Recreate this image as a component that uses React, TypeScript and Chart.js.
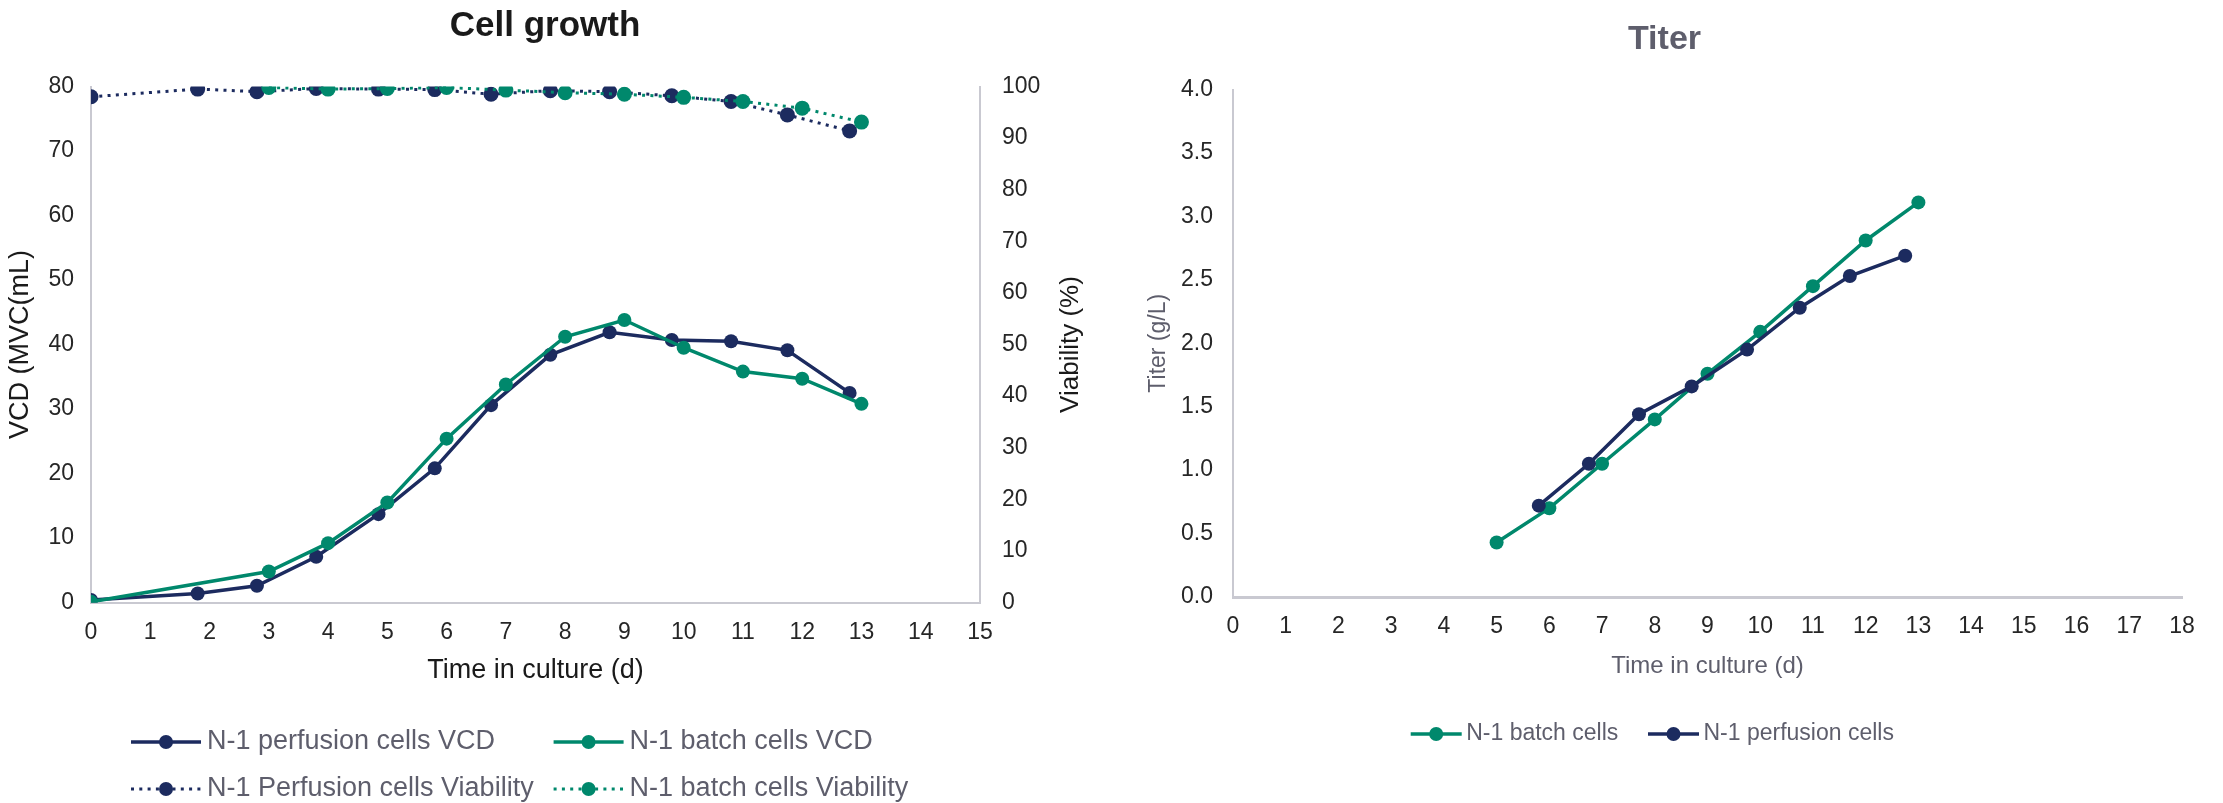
import React, { useEffect, useRef } from "react";
import { Chart, registerables } from "chart.js";

Chart.register(...registerables);

const NAVY = "#1c2b5f";
const GREEN = "#00886c";
const FONT = "'Liberation Sans', Arial, sans-serif";
const TICK_COLOR = "#262626";
const GRAY_TEXT = "#5e5e6c";
const AXIS_COLOR = "#c9c9d1";

// ---- Cell growth data ----
const perfusionDays = [0, 1.8, 2.8, 3.8, 4.85, 5.8, 6.75, 7.75, 8.75, 9.8, 10.8, 11.75, 12.8];
const perfusionVCD = [0.4, 1.4, 2.6, 7.1, 13.7, 20.8, 30.6, 38.4, 41.9, 40.7, 40.5, 39.1, 32.5];
const perfusionViability = [98.0, 99.5, 99.0, 99.6, 99.5, 99.4, 98.5, 99.2, 99.0, 98.2, 97.1, 94.5, 91.4];

const batchDays = [0, 3, 4, 5, 6, 7, 8, 9, 10, 11, 12, 13];
const batchVCD = [0.1, 4.8, 9.2, 15.5, 25.4, 33.8, 41.2, 43.8, 39.5, 35.8, 34.7, 30.8];
const batchViabilityDays = [3, 4, 5, 6, 7, 8, 9, 10, 11, 12, 13];
const batchViability = [99.8, 99.5, 99.6, 99.8, 99.3, 98.8, 98.5, 97.9, 97.1, 95.8, 93.1];

// ---- Titer data ----
const batchTiterDays = [5, 6, 7, 8, 9, 10, 11, 12, 13];
const batchTiter = [0.43, 0.7, 1.05, 1.4, 1.76, 2.09, 2.45, 2.81, 3.11];
const perfusionTiterDays = [5.8, 6.75, 7.7, 8.7, 9.75, 10.75, 11.7, 12.75];
const perfusionTiter = [0.72, 1.05, 1.44, 1.66, 1.95, 2.28, 2.53, 2.69];

const growthLegend = [
  { text: "N-1 perfusion cells VCD", color: NAVY, dotted: false },
  { text: "N-1 batch cells VCD", color: GREEN, dotted: false },
  { text: "N-1 Perfusion cells Viability", color: NAVY, dotted: true },
  { text: "N-1 batch cells Viability", color: GREEN, dotted: true },
];
const titerLegend = [
  { text: "N-1 batch cells", color: GREEN, dotted: false },
  { text: "N-1 perfusion cells", color: NAVY, dotted: false },
];

function pts(xs: number[], ys: number[]) {
  return xs.map((x, i) => ({ x, y: ys[i] }));
}

function drawLegendItem(
  ctx: CanvasRenderingContext2D,
  x: number,
  y: number,
  lineLen: number,
  item: { text: string; color: string; dotted: boolean },
  fontSize: number,
  gap: number
) {
  ctx.save();
  ctx.strokeStyle = item.color;
  if (item.dotted) {
    ctx.lineWidth = 3;
    ctx.setLineDash([3, 5.3]);
  } else {
    ctx.lineWidth = 3.5;
  }
  ctx.beginPath();
  ctx.moveTo(x, y);
  ctx.lineTo(x + lineLen, y);
  ctx.stroke();
  ctx.setLineDash([]);
  ctx.fillStyle = item.color;
  ctx.beginPath();
  ctx.arc(x + lineLen / 2, y, 7, 0, Math.PI * 2);
  ctx.fill();
  ctx.fillStyle = GRAY_TEXT;
  ctx.font = `${fontSize}px ${FONT}`;
  ctx.textBaseline = "middle";
  ctx.textAlign = "left";
  ctx.fillText(item.text, x + lineLen + gap, y);
  ctx.restore();
}

const tickFont = { size: 23, family: FONT };

function axisBase() {
  return {
    grid: { display: false, drawTicks: false },
    border: { display: true, color: AXIS_COLOR, width: 2 },
  };
}

function GrowthChart() {
  const ref = useRef<HTMLCanvasElement | null>(null);
  useEffect(() => {
    if (!ref.current) return;
    const extras = {
      id: "growthExtras",
      afterDraw(chart: any) {
        const ctx = chart.ctx as CanvasRenderingContext2D;
        const area = chart.chartArea;
        ctx.save();
        ctx.fillStyle = "#1a1a1a";
        ctx.font = `bold 35px ${FONT}`;
        ctx.textAlign = "center";
        ctx.textBaseline = "middle";
        ctx.fillText("Cell growth", 545, 26);
        // right axis title, reading bottom to top
        ctx.translate(area.right + 91, (area.top + area.bottom) / 2);
        ctx.rotate(-Math.PI / 2);
        ctx.fillStyle = "#1a1a1a";
        ctx.font = `26px ${FONT}`;
        ctx.fillText("Viability (%)", 0, 0);
        ctx.restore();
        const cols = [131, 553.6];
        const rows = [742, 789];
        growthLegend.forEach((item, i) => {
          drawLegendItem(ctx, cols[i % 2], rows[Math.floor(i / 2)], 70, item, 27, 6);
        });
      },
    };
    const chart = new Chart(ref.current, {
      type: "line",
      data: {
        datasets: [
          {
            label: "N-1 perfusion cells VCD",
            data: pts(perfusionDays, perfusionVCD),
            borderColor: NAVY,
            backgroundColor: NAVY,
            borderWidth: 3.5,
            pointRadius: 7,
            pointBorderWidth: 0,
            pointBackgroundColor: NAVY,
            yAxisID: "y",
            order: 3,
          },
          {
            label: "N-1 batch cells VCD",
            data: pts(batchDays, batchVCD),
            borderColor: GREEN,
            backgroundColor: GREEN,
            borderWidth: 3.5,
            pointRadius: 7,
            pointBorderWidth: 0,
            pointBackgroundColor: GREEN,
            yAxisID: "y",
            order: 2,
          },
          {
            label: "N-1 Perfusion cells Viability",
            data: pts(perfusionDays, perfusionViability),
            borderColor: NAVY,
            backgroundColor: NAVY,
            borderWidth: 3,
            borderDash: [3, 5.3],
            pointRadius: 7.5,
            pointBorderWidth: 0,
            pointBackgroundColor: NAVY,
            yAxisID: "y1",
            order: 1,
          },
          {
            label: "N-1 batch cells Viability",
            data: pts(batchViabilityDays, batchViability),
            borderColor: GREEN,
            backgroundColor: GREEN,
            borderWidth: 3,
            borderDash: [3, 5.3],
            pointRadius: 7.5,
            pointBorderWidth: 0,
            pointBackgroundColor: GREEN,
            yAxisID: "y1",
            order: 0,
          },
        ],
      },
      options: {
        responsive: false,
        animation: false,
        events: [],
        layout: { padding: { top: 86.5, bottom: 116.5, left: 0, right: 0 } },
        elements: { line: { tension: 0 } },
        plugins: { legend: { display: false }, title: { display: false }, tooltip: { enabled: false } },
        scales: {
          x: {
            type: "linear",
            min: 0,
            max: 15,
            ...axisBase(),
            ticks: { stepSize: 1, font: tickFont, color: TICK_COLOR, padding: 16, maxRotation: 0, autoSkip: false },
            title: { display: true, text: "Time in culture (d)", font: { size: 27, family: FONT }, color: "#1a1a1a", padding: { top: 0, bottom: 0 } },
            afterFit: (s: any) => {
              s.height = 84;
            },
          },
          y: {
            type: "linear",
            position: "left",
            min: 0,
            max: 80,
            ...axisBase(),
            ticks: { stepSize: 10, font: tickFont, color: TICK_COLOR, padding: 17 },
            title: { display: true, text: "VCD (MVC(mL)", font: { size: 27, family: FONT }, color: "#1a1a1a", padding: { top: 4, bottom: 0 } },
            afterFit: (s: any) => {
              s.width = 91;
            },
          },
          y1: {
            type: "linear",
            position: "right",
            min: 0,
            max: 100,
            ...axisBase(),
            ticks: { stepSize: 10, font: tickFont, color: TICK_COLOR, padding: 22 },
            afterFit: (s: any) => {
              s.width = 130;
            },
          },
        },
      } as any,
      plugins: [extras],
    });
    return () => chart.destroy();
  }, []);
  return <canvas ref={ref} width={1110} height={803} style={{ position: "absolute", left: 0, top: 0 }} />;
}

function TiterChart() {
  const ref = useRef<HTMLCanvasElement | null>(null);
  useEffect(() => {
    if (!ref.current) return;
    const extras = {
      id: "titerExtras",
      afterDraw(chart: any) {
        const ctx = chart.ctx as CanvasRenderingContext2D;
        ctx.save();
        ctx.fillStyle = GRAY_TEXT;
        ctx.font = `bold 34px ${FONT}`;
        ctx.textAlign = "center";
        ctx.textBaseline = "middle";
        ctx.fillText("Titer", 554.5, 40);
        ctx.restore();
        const xs = [300.7, 538];
        titerLegend.forEach((item, i) => {
          drawLegendItem(ctx, xs[i], 734, 51, item, 23, 4.5);
        });
      },
    };
    const chart = new Chart(ref.current, {
      type: "line",
      data: {
        datasets: [
          {
            label: "N-1 batch cells",
            data: pts(batchTiterDays, batchTiter),
            borderColor: GREEN,
            backgroundColor: GREEN,
            borderWidth: 3.5,
            pointRadius: 7,
            pointBorderWidth: 0,
            pointBackgroundColor: GREEN,
            order: 1,
          },
          {
            label: "N-1 perfusion cells",
            data: pts(perfusionTiterDays, perfusionTiter),
            borderColor: NAVY,
            backgroundColor: NAVY,
            borderWidth: 3.5,
            pointRadius: 7,
            pointBorderWidth: 0,
            pointBackgroundColor: NAVY,
            order: 0,
          },
        ],
      },
      options: {
        responsive: false,
        animation: false,
        events: [],
        layout: { padding: { top: 89.5, bottom: 122, left: 0, right: 41 } },
        elements: { line: { tension: 0 } },
        plugins: { legend: { display: false }, title: { display: false }, tooltip: { enabled: false } },
        scales: {
          x: {
            type: "linear",
            min: 0,
            max: 18,
            grid: { display: false, drawTicks: false },
            border: { display: true, color: AXIS_COLOR, width: 3 },
            ticks: { stepSize: 1, font: tickFont, color: TICK_COLOR, padding: 16, maxRotation: 0, autoSkip: false },
            title: { display: true, text: "Time in culture (d)", font: { size: 24, family: FONT }, color: GRAY_TEXT, padding: { top: 0, bottom: 0 } },
            afterFit: (s: any) => {
              s.height = 84;
            },
          },
          y: {
            type: "linear",
            position: "left",
            min: 0,
            max: 4,
            grid: { display: false, drawTicks: false },
            border: { display: true, color: AXIS_COLOR, width: 2 },
            ticks: {
              stepSize: 0.5,
              font: tickFont,
              color: TICK_COLOR,
              padding: 20,
              callback: (v: any) => Number(v).toFixed(1),
            },
            title: { display: true, text: "Titer (g/L)", font: { size: 23, family: FONT }, color: GRAY_TEXT, padding: { top: 35, bottom: 0 } },
            afterFit: (s: any) => {
              s.width = 123;
            },
          },
        },
      } as any,
      plugins: [extras],
    });
    return () => chart.destroy();
  }, []);
  return <canvas ref={ref} width={1113} height={803} style={{ position: "absolute", left: 1110, top: 0 }} />;
}

export default function App() {
  return (
    <div style={{ position: "fixed", left: 0, top: 0, width: 2223, height: 803, background: "#ffffff", overflow: "hidden" }}>
      <GrowthChart />
      <TiterChart />
    </div>
  );
}
